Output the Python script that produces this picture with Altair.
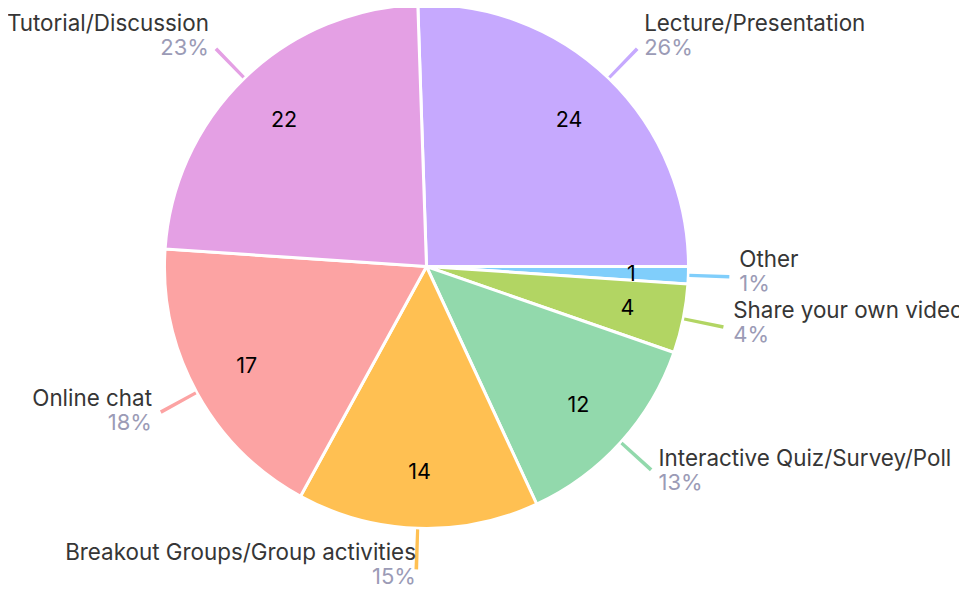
import math
import altair as alt
import pandas as pd

# ---- data ----
categories = [
    "Lecture/Presentation",
    "Other",
    "Share your own video",
    "Interactive Quiz/Survey/Poll",
    "Breakout Groups/Group activities",
    "Online chat",
    "Tutorial/Discussion",
]
values = [24, 1, 4, 12, 14, 17, 22]
colors = ["#C6A9FE", "#80CEFB", "#B2D563", "#92D9AC", "#FFC052", "#FCA3A3", "#E4A0E4"]

# ---- style ----
FONT = "Inter"
CX, CY = 418.5, 258.5
START = math.radians(-1.9)
R_PIE = 262
R_LEAD_IN, R_LEAD_OUT = 263, 303
R_LABEL = 313
R_INNER = 205
HALF_W = 0.09
NAME_SIZE, PCT_SIZE = 22.4, 22

df = pd.DataFrame({"category": categories, "value": values, "order": list(range(len(categories)))})

theta_scale = alt.Scale(domain=[0, sum(values)], range=[START, START + 2 * math.pi])
color_scale = alt.Scale(domain=categories, range=colors)

base = (
    alt.Chart(df)
    .transform_window(cum="sum(value)", sort=[alt.SortField("order")], frame=[None, 0])
    .transform_joinaggregate(total="sum(value)")
    .transform_calculate(
        start="datum.cum - datum.value",
        mid="datum.cum - datum.value / 2",
        lo=f"datum.cum - datum.value / 2 - {HALF_W}",
        hi=f"datum.cum - datum.value / 2 + {HALF_W}",
        ang=f"{START} + (datum.cum - datum.value / 2) / datum.total * 2 * PI",
        pct="format(datum.value / datum.total, '.0%')",
    )
    .encode(x=alt.value(CX), y=alt.value(CY))
)

color_enc = alt.Color("category:N", scale=color_scale, legend=None)

slices = base.mark_arc(radius=R_PIE, stroke="white", strokeWidth=3).encode(
    theta=alt.Theta("start:Q", scale=theta_scale, stack=False),
    theta2="cum:Q",
    color=color_enc,
)

leaders = base.mark_arc(radius=R_LEAD_OUT, radius2=R_LEAD_IN).encode(
    theta=alt.Theta("lo:Q", scale=theta_scale, stack=False),
    theta2="hi:Q",
    color=color_enc,
)

theta_mid = alt.Theta("mid:Q", scale=theta_scale, stack=False)

nums = base.mark_text(radius=R_INNER, dy=2, font=FONT, fontSize=21.5, color="#000000").encode(
    theta=theta_mid, text="value:Q"
)

right = base.transform_filter("sin(datum.ang) >= 0")
left = base.transform_filter("sin(datum.ang) < 0 && cos(datum.ang) > -0.99")
bottom = base.transform_filter("sin(datum.ang) < 0 && cos(datum.ang) <= -0.99")

def labels(src, align, lift=0.0):
    n = src.mark_text(radius=R_LABEL, align=align, baseline="alphabetic", dy=-10.5 - lift,
                      font=FONT, fontSize=NAME_SIZE, color="#363636").encode(theta=theta_mid, text="category:N")
    p = src.mark_text(radius=R_LABEL, align=align, baseline="alphabetic", dy=13.5 - lift,
                      font=FONT, fontSize=PCT_SIZE, color="#9B9BB6").encode(theta=theta_mid, text="pct:N")
    return [n, p]

chart = alt.layer(
    slices, leaders, nums,
    *labels(right, "left"), *labels(left, "right"), *labels(bottom, "right", lift=9.0)
).properties(width=951, height=580, padding=0, autosize="none").configure_view(strokeWidth=0)

chart.save("out.html", embed_options={"renderer": "svg", "actions": False})
